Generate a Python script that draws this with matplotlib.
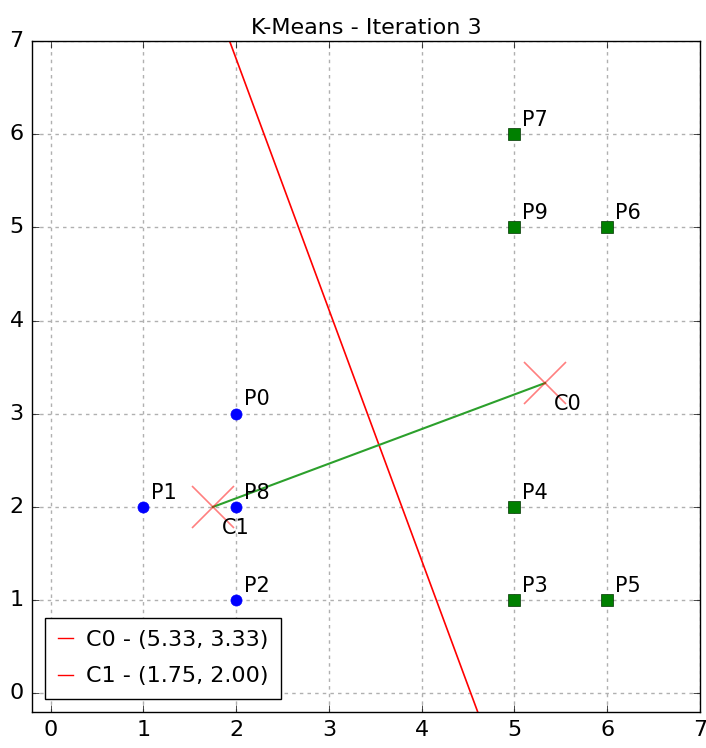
import matplotlib
matplotlib.use('Agg')
import matplotlib.pyplot as plt
import numpy as np

plt.style.use('classic')

# data points and cluster assignment
names = ["P0", "P1", "P2", "P3", "P4", "P5", "P6", "P7", "P8", "P9"]
xs = [2, 1, 2, 5, 5, 6, 6, 5, 2, 5]
ys = [3, 2, 1, 1, 2, 1, 5, 6, 2, 5]
cluster = [1, 1, 1, 0, 0, 0, 0, 0, 1, 0]

# centroids
cent_names = ["C0", "C1"]
cent_x = [5.33, 1.75]
cent_y = [3.33, 2.00]

fig = plt.figure(figsize=(7.06, 7.48), dpi=100, facecolor='white')
ax = fig.add_axes([32 / 706, 1 - 712 / 748, 668 / 706, 671 / 748])

# perpendicular bisector between centroids
mx, my = (cent_x[0] + cent_x[1]) / 2, (cent_y[0] + cent_y[1]) / 2
dx, dy = cent_x[0] - cent_x[1], cent_y[0] - cent_y[1]
yb = np.linspace(-0.2, 7, 50)
xb = mx - dy * (yb - my) / dx
ax.plot(xb, yb, color='red', linewidth=1.2, zorder=2)

# line joining centroids
ax.plot(cent_x, cent_y, color='#2ca02c', linewidth=1.5, zorder=2)

for n, x, y, c in zip(names, xs, ys, cluster):
    if c == 1:
        ax.plot(x, y, 'o', color='blue', markeredgecolor='blue', markersize=8, zorder=4)
    else:
        ax.plot(x, y, 's', color='green', markeredgecolor='#003300', markersize=8, zorder=4)
    ax.text(x + 0.08, y + 0.09, n, fontsize=15, ha='left', va='baseline')

for n, x, y in zip(cent_names, cent_x, cent_y):
    ax.plot(x, y, 'x', color='red', alpha=0.5, markersize=30, markeredgewidth=1.2, zorder=3)
    ax.text(x + 0.1, y - 0.23, n, fontsize=15, ha='left', va='center')

h0, = ax.plot([], [], color='red', label='C0 - (%.2f, %.2f)' % (cent_x[0], cent_y[0]))
h1, = ax.plot([], [], color='red', label='C1 - (%.2f, %.2f)' % (cent_x[1], cent_y[1]))
ax.legend(handles=[h0, h1], loc='lower left', fontsize=16, handlelength=0.7,
          handletextpad=0.6, borderpad=0.55, labelspacing=0.75, numpoints=1,
          fancybox=False, framealpha=1, borderaxespad=0.6)

ax.set_xlim(-0.2, 7)
ax.set_ylim(-0.2, 7)
ax.set_xticks(range(0, 8))
ax.set_yticks(range(0, 8))
ax.tick_params(labelsize=16, direction='in', length=5, pad=6)
ax.grid(True, color='#b0b0b0', linestyle=(0, (2.5, 3)), linewidth=1.0)
ax.set_axisbelow(True)
ax.set_title('K-Means - Iteration 3', fontsize=16)

fig.savefig('out.png', dpi=100, facecolor='white')
